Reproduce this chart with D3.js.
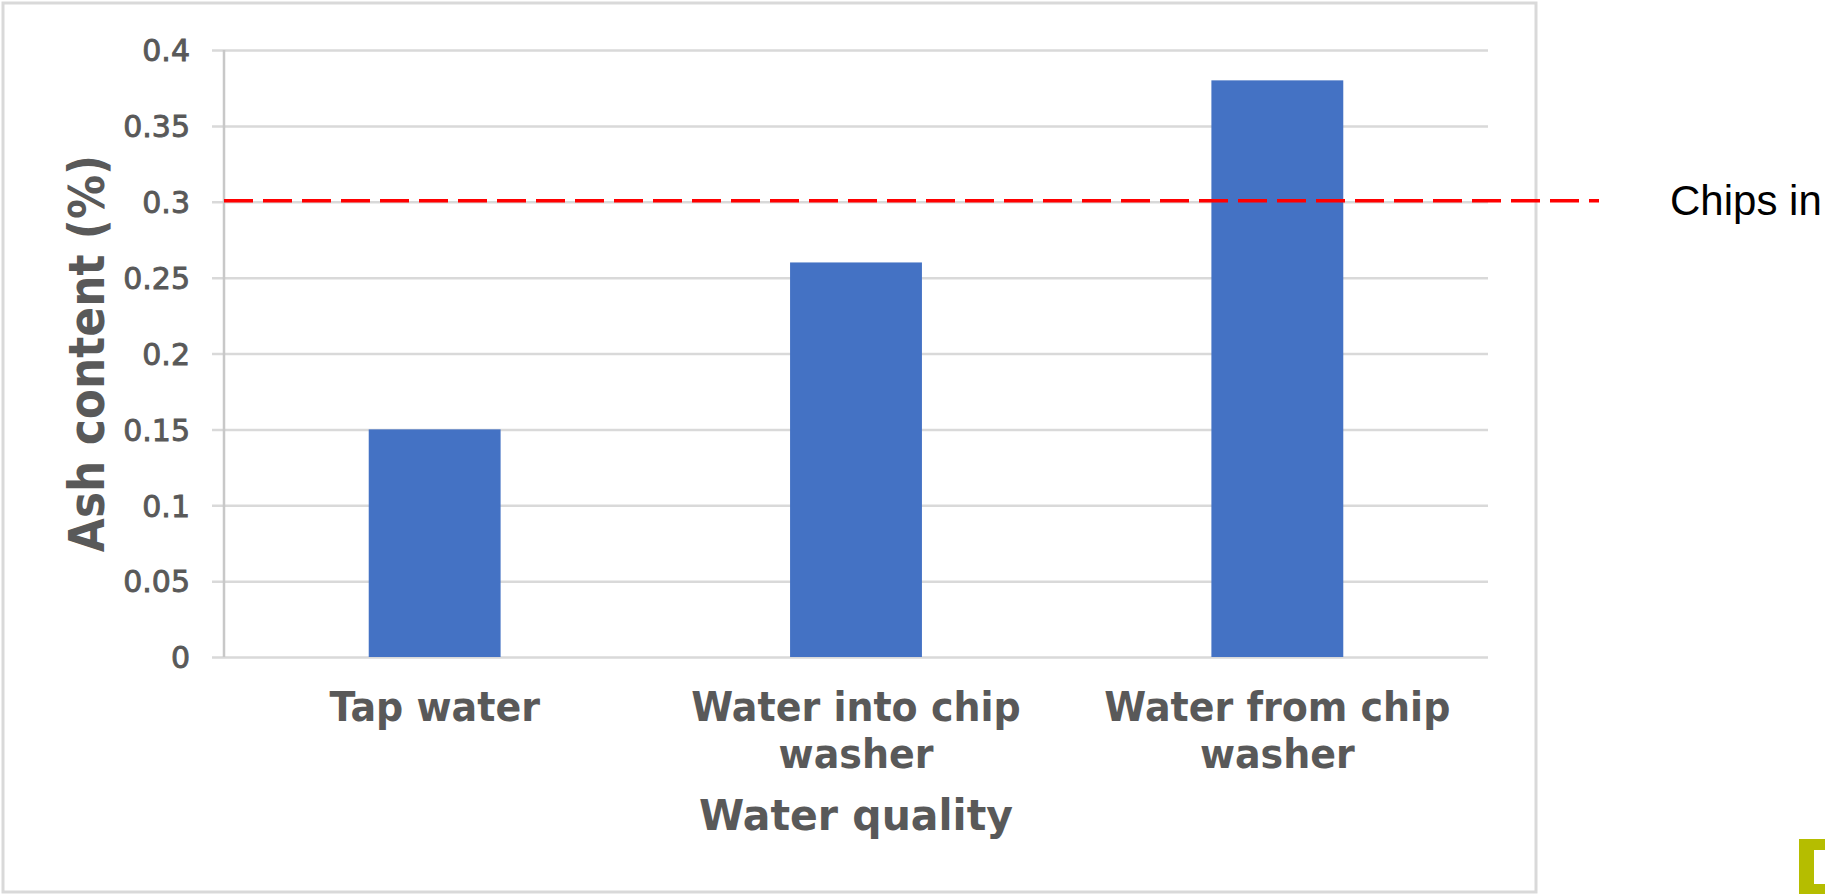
<!DOCTYPE html>
<html>
<head>
<meta charset="utf-8">
<script src="https://cdn.jsdelivr.net/npm/d3@7"></script>
<style>
  html, body { margin: 0; padding: 0; background: #fff; }
  svg { display: block; }
</style>
</head>
<body>
<svg id="chart" width="1825" height="894"></svg>
<script>
// Ash content by water source
const categories = ["Tap water", "Water into chip washer", "Water from chip washer"];
const categoryLines = [["Tap water"], ["Water into chip", "washer"], ["Water from chip", "washer"]];
const ashContent = [0.15, 0.26, 0.38];
const yTicks = [0, 0.05, 0.1, 0.15, 0.2, 0.25, 0.3, 0.35, 0.4];
const referenceValue = [0.3];
const referenceLabel = ["Chips in"];

const svg = d3.select("#chart");
const grey = "#595959";

// chart frame
svg.append("rect")
  .attr("x", 3).attr("y", 3).attr("width", 1533).attr("height", 889)
  .attr("fill", "#fff").attr("stroke", "#d9d9d9").attr("stroke-width", 3);

const plot = { left: 224, right: 1488, top: 50, bottom: 657 };

const x = d3.scaleBand().domain(categories).range([plot.left, plot.right]).padding(0);
const y = d3.scaleLinear().domain([0, 0.4]).range([plot.bottom, plot.top]);
const barWidth = x.bandwidth() * 0.313;

// gridlines with short ticks to the left of the axis
const yAxis = d3.axisLeft(y).tickValues(yTicks)
  .tickSize(-(plot.right - plot.left))
  .tickFormat(d => d3.format("")(+d.toFixed(2)));
const gy = svg.append("g").attr("transform", `translate(${plot.left},0)`).call(yAxis);
gy.select(".domain").remove();
gy.selectAll(".tick line")
  .attr("x1", -12)
  .attr("stroke", "#d9d9d9").attr("stroke-width", 2.5);
gy.selectAll(".tick text")
  .attr("x", -34).attr("dy", "0.36em")
  .attr("font-family", "DejaVu Sans, Verdana, sans-serif")
  .attr("font-size", 30).attr("fill", grey)
  .attr("stroke", grey).attr("stroke-width", 0.9);

// vertical axis line
svg.append("line")
  .attr("x1", plot.left).attr("x2", plot.left)
  .attr("y1", y(0.4)).attr("y2", y(0))
  .attr("stroke", "#c8c8c8").attr("stroke-width", 2.5);

// bars
svg.append("g").selectAll("rect")
  .data(categories.map((c, i) => ({ c, v: ashContent[i] })))
  .join("rect")
  .attr("x", d => x(d.c) + (x.bandwidth() - barWidth) / 2)
  .attr("y", d => y(d.v))
  .attr("width", barWidth)
  .attr("height", d => y(0) - y(d.v))
  .attr("fill", "#4472C4");

// category labels
const gx = svg.append("g");
categories.forEach((c, i) => {
  const cx = x(c) + x.bandwidth() / 2;
  const t = gx.append("text")
    .attr("transform", `translate(${cx},721) scale(1,1.06)`)
    .attr("text-anchor", "middle")
    .attr("font-family", "DejaVu Sans, Verdana, sans-serif")
    .attr("font-weight", "bold")
    .attr("font-size", 38)
    .attr("fill", grey);
  categoryLines[i].forEach((line, k) => {
    t.append("tspan")
      .attr("x", 0)
      .attr("dy", k === 0 ? 0 : 44.3)
      .text(line);
  });
});

// axis titles
svg.append("text")
  .attr("transform", `translate(${(plot.left + plot.right) / 2},830) scale(1,1.06)`)
  .attr("text-anchor", "middle")
  .attr("font-family", "DejaVu Sans, Verdana, sans-serif")
  .attr("font-weight", "bold").attr("font-size", 41)
  .attr("fill", grey)
  .text("Water quality");

svg.append("text")
  .attr("transform", `translate(104,${(plot.top + plot.bottom) / 2}) rotate(-90) scale(1,1.15)`)
  .attr("text-anchor", "middle")
  .attr("font-family", "DejaVu Sans, Verdana, sans-serif")
  .attr("font-weight", "bold").attr("font-size", 44)
  .attr("fill", grey)
  .text("Ash content (%)");

// reference line
svg.append("line")
  .attr("x1", plot.left).attr("x2", 1599)
  .attr("y1", y(referenceValue[0]) - 1).attr("y2", y(referenceValue[0]) - 1)
  .attr("stroke", "#ff0000").attr("stroke-width", 3.5)
  .attr("stroke-dasharray", "29,10");

svg.append("text")
  .attr("x", 1670).attr("y", 215)
  .attr("font-family", "Liberation Sans, Arial, sans-serif")
  .attr("font-size", 42).attr("fill", "#000")
  .text(referenceLabel[0]);

// corner mark
svg.append("rect")
  .attr("x", 1799).attr("y", 839).attr("width", 40).attr("height", 60)
  .attr("fill", "#b5bd00");
svg.append("rect")
  .attr("x", 1814).attr("y", 850).attr("width", 20).attr("height", 34)
  .attr("fill", "#fff");
</script>
</body>
</html>
